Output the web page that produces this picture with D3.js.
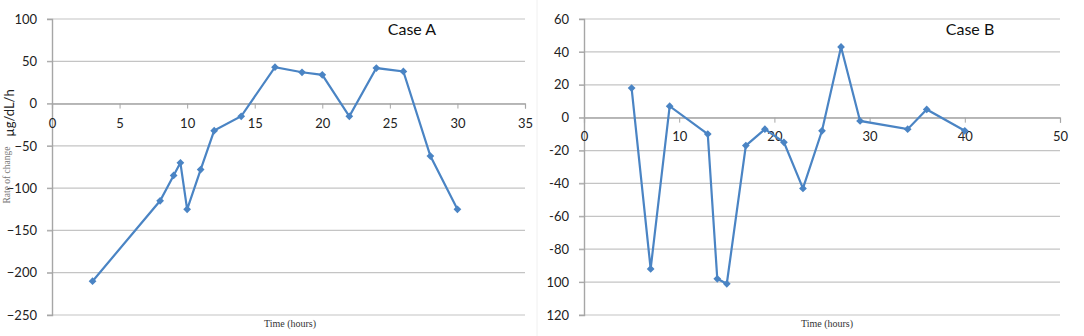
<!DOCTYPE html>
<html>
<head>
<meta charset="utf-8">
<script src="https://cdn.jsdelivr.net/npm/d3@7"></script>
<style>
  body { margin: 0; background: #fff; }
  svg { display: block; }
  .tick text { font-family: Lato, "Open Sans", sans-serif; font-size: 13px; fill: #222; }
</style>
</head>
<body>
<svg id="chart" width="1084" height="336"></svg>
<script>
// ── Data ────────────────────────────────────────────────────────────────────
const caseA_time = [3, 8, 9, 9.5, 10, 11, 12, 14, 16.5, 18.5, 20, 22, 24, 26, 28, 30];
const caseA_rate = [-210, -115, -85, -70, -125, -78, -32, -15, 43, 37, 34, -15, 42, 38, -62, -125];

const caseB_time = [5, 7, 9, 13, 14, 15, 17, 19, 21, 23, 25, 27, 29, 34, 36, 40];
const caseB_rate = [18, -92, 7, -10, -98, -101, -17, -7, -15, -43, -8, 43, -2, -7, 5, -8];

const caseA_xTicks = [0, 5, 10, 15, 20, 25, 30, 35];
const caseA_yTicks = [100, 50, 0, -50, -100, -150, -200, -250];
const caseB_xTicks = [0, 10, 20, 30, 40, 50];
const caseB_yTicks = [60, 40, 20, 0, -20, -40, -60, -80, -100, -120];
// the source image prints the last two labels without a minus sign
const caseB_yLabels = ["60", "40", "20", "0", "-20", "-40", "-60", "-80", "100", "120"];

const BLUE = "#4a84c4", GRID = "#c4c4c4", AXIS = "#a6a6a6";

const svg = d3.select("#chart");

function panel(cfg) {
  const x = d3.scaleLinear().domain(cfg.xDomain).range([cfg.left, cfg.right]);
  const y = d3.scaleLinear().domain(cfg.yDomain).range([cfg.bottom, cfg.top]);
  const g = svg.append("g");

  // horizontal gridlines
  g.selectAll("line.grid").data(cfg.yTicks).join("line")
    .attr("x1", cfg.left - 5).attr("x2", cfg.right)
    .attr("y1", d => y(d)).attr("y2", d => y(d))
    .attr("stroke", GRID).attr("stroke-width", 1.2);

  // y axis
  const yAx = g.append("g").attr("transform", `translate(${cfg.left},0)`)
    .call(d3.axisLeft(y).tickValues(cfg.yTicks).tickSize(5).tickPadding(10)
      .tickFormat((d, i) => cfg.yLabels ? cfg.yLabels[i] : d3.format("d")(d)));
  yAx.select(".domain").attr("stroke", AXIS).attr("stroke-width", 1.4);
  yAx.selectAll(".tick line").attr("stroke", AXIS);

  // x axis along zero
  const xAx = g.append("g").attr("transform", `translate(0,${y(0)})`)
    .call(d3.axisBottom(x).tickValues(cfg.xTicks).tickSize(5).tickPadding(cfg.xPad));
  xAx.select(".domain").attr("stroke", AXIS).attr("stroke-width", 1.2);
  xAx.selectAll(".tick line").attr("stroke", AXIS);

  // line + diamond markers (rotated squares)
  const pts = cfg.xs.map((t, i) => [t, cfg.ys[i]]);
  g.append("path").datum(pts)
    .attr("fill", "none").attr("stroke", BLUE).attr("stroke-width", 2.2)
    .attr("d", d3.line().x(d => x(d[0])).y(d => y(d[1])));
  g.selectAll("path.mk").data(pts).join("path")
    .attr("class", "mk")
    .attr("transform", d => `translate(${x(d[0])},${y(d[1])}) rotate(45)`)
    .attr("d", d3.symbol(d3.symbolSquare, 30))
    .attr("fill", BLUE);

  // title + x label
  g.append("text").attr("x", cfg.titleX).attr("y", 35)
    .attr("text-anchor", "middle")
    .attr("font-family", "Lato, sans-serif").attr("font-size", 16).attr("fill", "#111")
    .text(cfg.title);
  g.append("text").attr("x", cfg.xLabelX).attr("y", 327)
    .attr("text-anchor", "middle")
    .attr("font-family", "'Liberation Serif', 'DejaVu Serif', serif").attr("font-size", 10).attr("fill", "#333")
    .text("Time  (hours)");
}

panel({
  xs: caseA_time, ys: caseA_rate,
  xDomain: [0, 35], yDomain: [-250, 100],
  left: 52, right: 525, top: 19, bottom: 315,
  xTicks: caseA_xTicks, yTicks: caseA_yTicks, xPad: 10,
  title: "Case A", titleX: 412, xLabelX: 290
});

panel({
  xs: caseB_time, ys: caseB_rate,
  xDomain: [0, 50], yDomain: [-120, 60],
  left: 584, right: 1060, top: 19, bottom: 315,
  xTicks: caseB_xTicks, yTicks: caseB_yTicks, yLabels: caseB_yLabels, xPad: 9,
  title: "Case B", titleX: 970, xLabelX: 827
});

// left y-axis title (two parts, as in the source image)
svg.append("text")
  .attr("transform", "translate(10,175) rotate(-90)")
  .attr("text-anchor", "middle")
  .attr("font-family", "'Liberation Serif', serif").attr("font-size", 9.5).attr("fill", "#777")
  .text("Rate of change");
svg.append("text")
  .attr("transform", "translate(14,113) rotate(-90)")
  .attr("text-anchor", "middle")
  .attr("font-family", "Lato, sans-serif").attr("font-size", 13).attr("fill", "#222")
  .text("µg/dL/h");

// faint panel divider from the source image
svg.append("line").attr("x1", 537).attr("x2", 537).attr("y1", 0).attr("y2", 336)
  .attr("stroke", "#f0f0f0");
</script>
</body>
</html>
